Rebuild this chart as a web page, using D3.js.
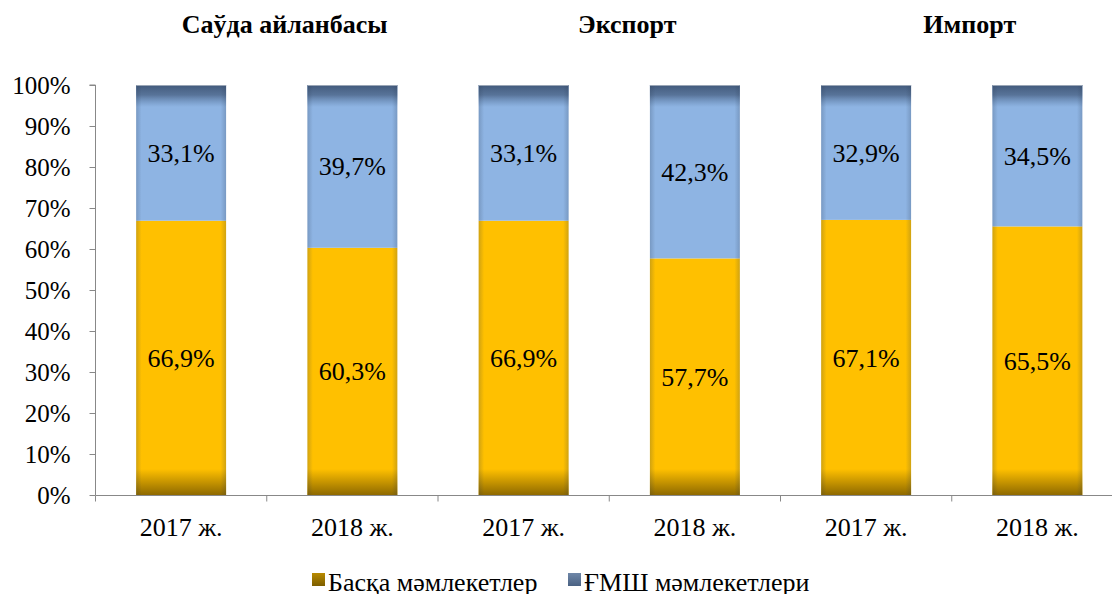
<!DOCTYPE html>
<html>
<head>
<meta charset="utf-8">
<script src="https://cdn.jsdelivr.net/npm/d3@7"></script>
<style>
  html, body { margin: 0; padding: 0; background: #fff; }
</style>
</head>
<body>
<div id="chart"></div>
<script>
// groups shown above each pair of bars
const groups = ["Саўда айланбасы", "Экспорт", "Импорт"];
const categories = ["2017 ж.", "2018 ж.", "2017 ж.", "2018 ж.", "2017 ж.", "2018 ж."];
// series values in percent
const other = [66.9, 60.3, 66.9, 57.7, 67.1, 65.5];
const cis = [33.1, 39.7, 33.1, 42.3, 32.9, 34.5];
const seriesNames = ["Басқа мәмлекетлер", "ҒМШ мәмлекетлери"];
const yTicks = [0, 10, 20, 30, 40, 50, 60, 70, 80, 90, 100];

const W = 1112, H = 594;
const FONT = "'Liberation Serif', 'Times New Roman', serif";
const svg = d3.select("#chart").append("svg")
  .attr("width", W).attr("height", H)
  .attr("font-family", FONT)
  .style("display", "block");

const ids = categories.map((c, i) => i);
const x = d3.scaleBand().domain(ids).range([95.5, 1123]).paddingInner(0.475).paddingOuter(0.2375);
const y = d3.scaleLinear().domain([0, 100]).range([495, 85]);

const defs = svg.append("defs");
// bottom shade on the yellow part
const gBottom = defs.append("linearGradient").attr("id", "shadeBottom").attr("x1", 0).attr("x2", 0).attr("y1", 0).attr("y2", 1);
gBottom.append("stop").attr("offset", 0).attr("stop-color", "#7a5a00").attr("stop-opacity", 0);
gBottom.append("stop").attr("offset", 1).attr("stop-color", "#7a5a00").attr("stop-opacity", 0.85);
// top shade on the blue part
const gTop = defs.append("linearGradient").attr("id", "shadeTop").attr("x1", 0).attr("x2", 0).attr("y1", 0).attr("y2", 1);
gTop.append("stop").attr("offset", 0).attr("stop-color", "#3e5576").attr("stop-opacity", 0.95);
gTop.append("stop").attr("offset", 0.45).attr("stop-color", "#4a6386").attr("stop-opacity", 0.8);
gTop.append("stop").attr("offset", 1).attr("stop-color", "#5a79a3").attr("stop-opacity", 0);
// side shade
const gSide = defs.append("linearGradient").attr("id", "shadeSide").attr("x1", 0).attr("x2", 1).attr("y1", 0).attr("y2", 0);
[[0, 0.22], [0.06, 0], [0.94, 0], [1, 0.22]].forEach(([o, a]) =>
  gSide.append("stop").attr("offset", o).attr("stop-color", "#2a3a50").attr("stop-opacity", a));
// legend markers
const gLeg1 = defs.append("linearGradient").attr("id", "leg1").attr("x1", 0).attr("x2", 0).attr("y1", 0).attr("y2", 1);
gLeg1.append("stop").attr("offset", 0).attr("stop-color", "#b88a00");
gLeg1.append("stop").attr("offset", 1).attr("stop-color", "#7d5e00");
const gLeg2 = defs.append("linearGradient").attr("id", "leg2").attr("x1", 0).attr("x2", 0).attr("y1", 0).attr("y2", 1);
gLeg2.append("stop").attr("offset", 0).attr("stop-color", "#6f87a8");
gLeg2.append("stop").attr("offset", 1).attr("stop-color", "#4a6283");

const bars = svg.append("g").selectAll("g").data(ids).join("g");
bars.append("rect")
  .attr("x", i => x(i)).attr("width", x.bandwidth())
  .attr("y", i => y(other[i])).attr("height", i => y(0) - y(other[i]))
  .attr("fill", "#ffc000");
bars.append("rect")
  .attr("x", i => x(i)).attr("width", x.bandwidth())
  .attr("y", i => y(100)).attr("height", i => y(other[i]) - y(100))
  .attr("fill", "#8eb4e3");
bars.append("rect")
  .attr("x", i => x(i)).attr("width", x.bandwidth())
  .attr("y", y(0) - 26).attr("height", 26)
  .attr("fill", "url(#shadeBottom)");
bars.append("rect")
  .attr("x", i => x(i)).attr("width", x.bandwidth())
  .attr("y", y(100)).attr("height", 22)
  .attr("fill", "url(#shadeTop)");
bars.append("rect")
  .attr("x", i => x(i)).attr("width", x.bandwidth())
  .attr("y", y(100)).attr("height", y(0) - y(100))
  .attr("fill", "url(#shadeSide)");
bars.append("line")
  .attr("x1", i => x(i)).attr("x2", i => x(i) + x.bandwidth())
  .attr("y1", y(100) + 0.5).attr("y2", y(100) + 0.5)
  .attr("stroke", "#9aa6b6").attr("stroke-width", 1);

// value labels
const fmt = v => v.toFixed(1).replace(".", ",") + "%";
bars.append("text")
  .attr("x", i => x(i) + x.bandwidth() / 2)
  .attr("y", i => y(other[i] / 2))
  .attr("dy", "0.35em").attr("text-anchor", "middle")
  .attr("font-size", 26).attr("fill", "#000")
  .text(i => fmt(other[i]));
bars.append("text")
  .attr("x", i => x(i) + x.bandwidth() / 2)
  .attr("y", i => y(other[i] + cis[i] / 2))
  .attr("dy", "0.35em").attr("text-anchor", "middle")
  .attr("font-size", 26).attr("fill", "#000")
  .text(i => fmt(cis[i]));

// y axis
const yAxis = svg.append("g").attr("transform", "translate(95.5,0)")
  .call(d3.axisLeft(y).tickValues(yTicks).tickFormat(d => d + "%").tickSize(6).tickPadding(19));
yAxis.attr("font-family", FONT);
yAxis.select(".domain").attr("stroke", "#888").attr("d", `M-6,${y(100)}H0V${y(0)}`);
yAxis.selectAll(".tick line").attr("stroke", "#888");
yAxis.selectAll(".tick text").attr("font-size", 25).attr("fill", "#000");

// x axis
const step = x.step();
const xAxis = svg.append("g").attr("transform", `translate(0,${y(0) + 0.5})`);
xAxis.append("line").attr("x1", 95.5).attr("x2", W).attr("stroke", "#888");
xAxis.selectAll("line.tk").data(d3.range(ids.length + 1)).join("line").attr("class", "tk")
  .attr("x1", i => 95.5 + i * step).attr("x2", i => 95.5 + i * step)
  .attr("y1", 0).attr("y2", 6).attr("stroke", "#888");
xAxis.selectAll("text").data(ids).join("text")
  .attr("x", i => x(i) + x.bandwidth() / 2).attr("y", 40)
  .attr("text-anchor", "middle").attr("font-size", 26).attr("fill", "#000")
  .text(i => categories[i]);

// group titles
svg.append("g").selectAll("text").data(groups).join("text")
  .attr("x", (g, k) => (x(2 * k) + x(2 * k + 1) + x.bandwidth()) / 2 + 18)
  .attr("y", 33)
  .attr("text-anchor", "middle").attr("font-size", 26).attr("font-weight", "bold").attr("fill", "#000")
  .text(g => g);

// legend
const legend = svg.append("g").attr("transform", "translate(0,579)");
const legX = [312, 568];
seriesNames.forEach((name, k) => {
  legend.append("rect").attr("x", legX[k]).attr("y", -6).attr("width", 13).attr("height", 13)
    .attr("fill", k === 0 ? "url(#leg1)" : "url(#leg2)");
  legend.append("text").attr("x", legX[k] + 16).attr("y", 12)
    .attr("font-size", 26).attr("fill", "#000").text(name);
});
</script>
</body>
</html>
